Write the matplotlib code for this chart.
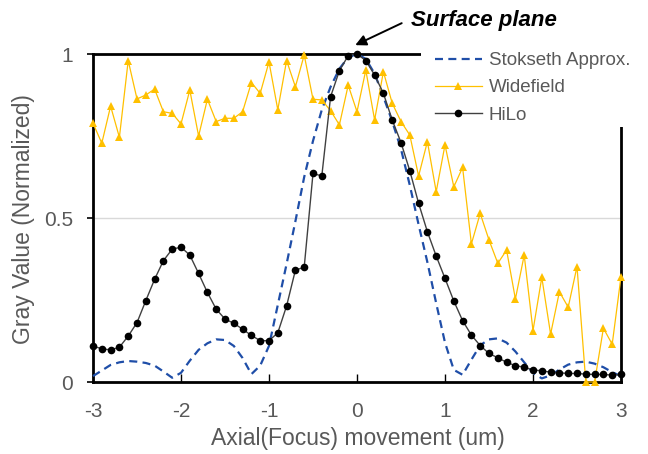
import matplotlib
matplotlib.use("Agg")
import matplotlib.pyplot as plt
from matplotlib.patches import Rectangle

# ---------------- data ----------------
axial = [-3.0, -2.9, -2.8, -2.7, -2.6, -2.5, -2.4, -2.3, -2.2, -2.1,
         -2.0, -1.9, -1.8, -1.7, -1.6, -1.5, -1.4, -1.3, -1.2, -1.1,
         -1.0, -0.9, -0.8, -0.7, -0.6, -0.5, -0.4, -0.3, -0.2, -0.1,
         0.0, 0.1, 0.2, 0.3, 0.4, 0.5, 0.6, 0.7, 0.8, 0.9,
         1.0, 1.1, 1.2, 1.3, 1.4, 1.5, 1.6, 1.7, 1.8, 1.9,
         2.0, 2.1, 2.2, 2.3, 2.4, 2.5, 2.6, 2.7, 2.8, 2.9, 3.0]

stokseth = [0.018, 0.035, 0.052, 0.060, 0.064, 0.062, 0.058, 0.050, 0.032, 0.013,
            0.028, 0.065, 0.098, 0.118, 0.130, 0.128, 0.110, 0.073, 0.024, 0.050,
            0.110, 0.235, 0.360, 0.490, 0.625, 0.735, 0.830, 0.900, 0.955, 0.990,
            1.000, 0.985, 0.940, 0.870, 0.795, 0.710, 0.600, 0.480, 0.365, 0.240,
            0.120, 0.037, 0.022, 0.068, 0.112, 0.130, 0.133, 0.120, 0.093, 0.060,
            0.028, 0.011, 0.020, 0.038, 0.053, 0.060, 0.062, 0.056, 0.045, 0.030, 0.018]

widefield = [0.789, 0.728, 0.841, 0.746, 0.980, 0.863, 0.875, 0.893, 0.824, 0.819,
             0.787, 0.890, 0.750, 0.862, 0.794, 0.804, 0.804, 0.824, 0.913, 0.880,
             0.976, 0.830, 0.980, 0.900, 0.997, 0.862, 0.860, 0.827, 0.784, 0.905,
             0.824, 0.951, 0.799, 0.946, 0.850, 0.794, 0.753, 0.628, 0.733, 0.580,
             0.723, 0.595, 0.654, 0.421, 0.514, 0.433, 0.362, 0.402, 0.253, 0.387,
             0.157, 0.319, 0.146, 0.275, 0.228, 0.352, 0.000, 0.000, 0.164, 0.115, 0.321]

hilo = [0.110, 0.101, 0.098, 0.106, 0.140, 0.181, 0.248, 0.313, 0.370, 0.405,
        0.411, 0.387, 0.331, 0.273, 0.222, 0.192, 0.179, 0.161, 0.142, 0.126,
        0.126, 0.150, 0.232, 0.341, 0.350, 0.636, 0.628, 0.870, 0.949, 0.995,
        1.000, 0.980, 0.936, 0.880, 0.799, 0.730, 0.644, 0.545, 0.458, 0.384,
        0.316, 0.247, 0.187, 0.143, 0.111, 0.087, 0.074, 0.060, 0.050, 0.045,
        0.037, 0.034, 0.030, 0.028, 0.026, 0.026, 0.024, 0.023, 0.023, 0.021, 0.023]

series_names = ["Stokseth Approx.", "Widefield", "HiLo"]
x_ticks = [-3, -2, -1, 0, 1, 2, 3]
x_tick_labels = ["-3", "-2", "-1", "0", "1", "2", "3"]
y_ticks = [0, 0.5, 1]
y_tick_labels = ["0", "0.5", "1"]
x_label = "Axial(Focus) movement (um)"
y_label = "Gray Value (Normalized)"
annotation_text = "Surface plane"

# ---------------- style ----------------
plt.rcParams['font.family'] = ['Liberation Sans', 'DejaVu Sans']
TXT = '#595959'
W, H = 648, 454

fig = plt.figure(figsize=(W / 100, H / 100), dpi=100)
ax = fig.add_axes([93 / W, 1 - 382 / H, 528 / W, 328 / H])

ax.plot(axial, stokseth, color='#1F4EA8', lw=1.6, dashes=(3.6, 2.4),
        label=series_names[0], zorder=3, clip_on=False)
ax.plot(axial, widefield, color='#FFC000', lw=0.9, marker='^', markersize=6,
        markeredgewidth=0, label=series_names[1], zorder=3.2, clip_on=False)
ax.plot(axial, hilo, color='#404040', lw=1.0, marker='o', markersize=5.5,
        markerfacecolor='black', markeredgecolor='black', markeredgewidth=0,
        label=series_names[2], zorder=3.4, clip_on=False)

ax.set_xlim(-3, 3)
ax.set_ylim(0, 1)
ax.set_xticks(x_ticks)
ax.set_xticklabels(x_tick_labels)
ax.set_yticks(y_ticks)
ax.set_yticklabels(y_tick_labels)

for s in ax.spines.values():
    s.set_color('black')
    s.set_linewidth(2.0)
    s.set_zorder(2.6)

ax.tick_params(axis='x', direction='in', length=5.5, width=1.0, color='black',
               labelsize=15, labelcolor=TXT, pad=14.5)
ax.tick_params(axis='y', direction='out', length=4.3, width=1.2, color='black',
               labelsize=15, labelcolor=TXT, pad=10)
for t in ax.yaxis.get_major_ticks():
    if abs(t.get_loc() - 0.5) < 1e-9:
        t.tick1line.set_color('#D9D9D9')

ax.axhline(0.5, color='#D9D9D9', lw=1.0, zorder=1)

# white cover of the upper-right corner behind the legend
ax.add_patch(Rectangle((421 / W, 1 - 127 / H), 1 - 421 / W, 127 / H,
                       transform=fig.transFigure, facecolor='white',
                       edgecolor='none', clip_on=False, zorder=4))

leg = ax.legend(loc='upper left', bbox_to_anchor=(435 / W, 1 - 52.3 / H),
                bbox_transform=fig.transFigure, frameon=False, fontsize=13.5,
                handlelength=2.5, handletextpad=0.37, labelspacing=0.53,
                borderpad=0, borderaxespad=0)
leg.set_zorder(5)
for t in leg.get_texts():
    t.set_color(TXT)

fig.text(24 / W, 1 - 219 / H, y_label, rotation=90, ha='center', va='center',
         fontsize=16.5, color=TXT)
fig.text(358 / W, 1 - 438 / H, x_label, ha='center', va='center',
         fontsize=16.5, color=TXT)

ax.annotate('', xy=(-0.02, 1.027), xytext=(0.508, 1.094), xycoords='data',
            annotation_clip=False,
            arrowprops=dict(arrowstyle='-|>', color='black', lw=1.4,
                            mutation_scale=16, shrinkA=0, shrinkB=0),
            zorder=6)
fig.text(411 / W, 1 - 20.7 / H, annotation_text, ha='left', va='center',
         fontsize=16, fontweight='bold', fontstyle='italic', color='black',
         zorder=10)

fig.savefig('out.png', dpi=100)
